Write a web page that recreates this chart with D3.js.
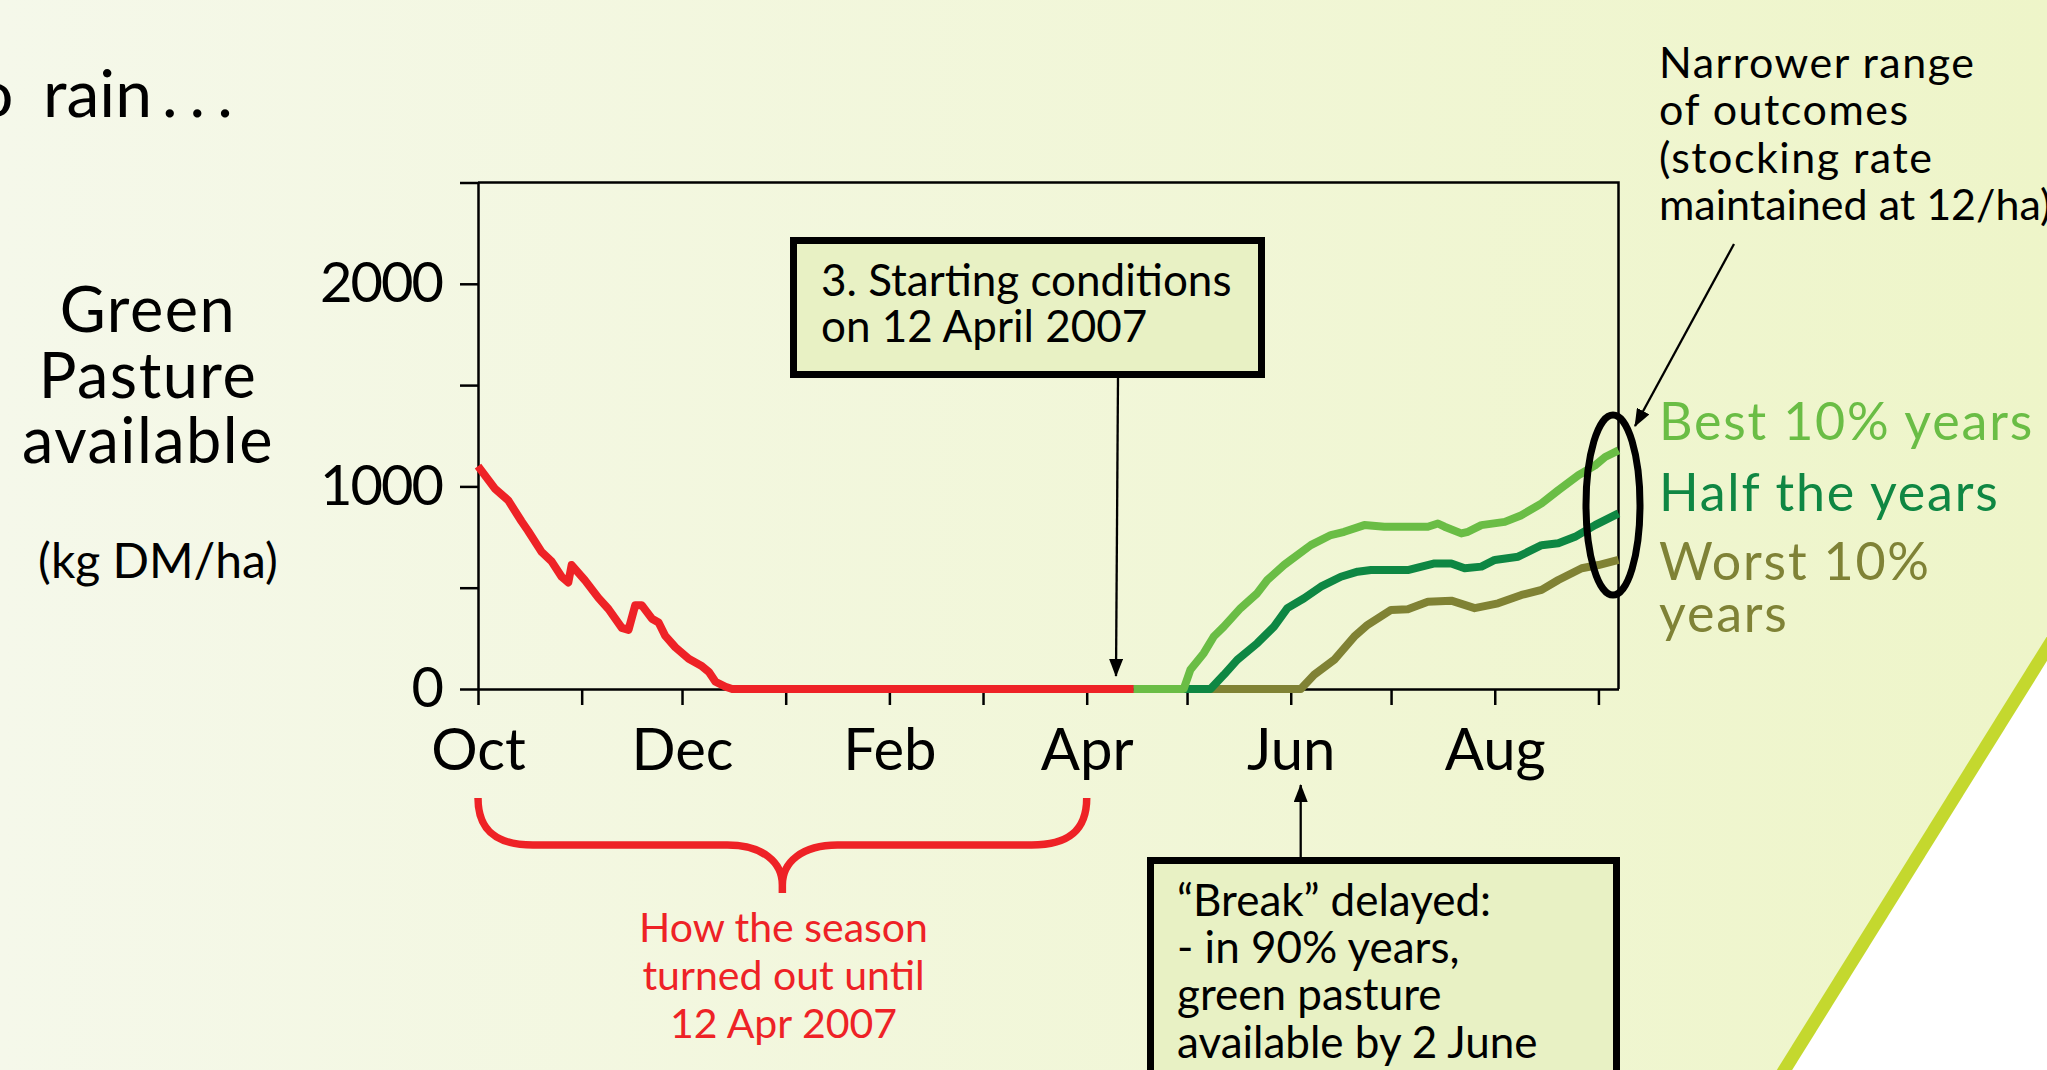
<!DOCTYPE html>
<html>
<head>
<meta charset="utf-8">
<script src="https://cdn.jsdelivr.net/npm/d3@7"></script>
<style>
  body { margin: 0; background: #fff; }
  svg { display: block; font-family: "Lato", sans-serif; }
</style>
</head>
<body>
<div id="chart"></div>
<script>
// days counted from 1 Oct 2006, values in kg DM/ha
const seasonSoFar = [[0,1100],[5,990],[9,932],[13,828],[15,780],[19,677],[22,630],[25,554],[27,526],[28,612],
  [32,536],[36,450],[39,395],[43,302],[45,292],[47,413],[49,413],[52,347],[54,328],[56,262],[59,206],
  [61,178],[63,149],[67,112],[69,85],[71,36],[74,11],[76,0],[196,0]];
const best10 = [[196,0],[211,0],[213,95],[217,177],[220,259],[223,308],[228,399],[233,473],[236,538],[241,612],
  [243,637],[249,710],[255,760],[259,776],[265,809],[271,801],[284,801],[287,817],[289,801],[294,768],
  [296,776],[300,809],[307,825],[312,858],[318,916],[323,981],[329,1055],[334,1104],[337,1145],[341,1178]];
const halfYears = [[196,0],[219,0],[223,70],[227,144],[233,226],[238,308],[242,399],[247,448],[252,505],[258,554],
  [263,579],[267,587],[278,587],[286,620],[291,620],[295,596],[300,604],[304,637],[311,653],[318,710],
  [323,719],[328,751],[334,809],[341,867]];
const worst10 = [[196,0],[246,0],[250,70],[256,144],[262,259],[266,317],[273,390],[278,394],[284,431],[291,436],
  [298,399],[305,423],[312,464],[318,489],[323,538],[330,596],[335,612],[341,637]];

const yTicks = [0, 500, 1000, 1500, 2000, 2500];
const yLabelled = [0, 1000, 2000];
const monthLabelled = ["Oct", "Dec", "Feb", "Apr", "Jun", "Aug"];

const yTitle = ["Green", "Pasture", "available"];
const yUnit = "(kg DM/ha)";
const startBox = ["3. Starting conditions", "on 12 April 2007"];
const breakBox = ["\u201cBreak\u201d delayed:", "- in 90% years,", "green pasture", "available by 2 June"];
const seasonNote = ["How the season", "turned out until", "12 Apr 2007"];
const rangeNote = ["Narrower range", "of outcomes", "(stocking rate", "maintained at 12/ha)"];
const legend = [
  {text: "Best 10% years", color: "#6abd45", y: 440},
  {text: "Half the years", color: "#0f8743", y: 511},
  {text: "Worst 10%", color: "#7f8236", y: 580},
  {text: "years", color: "#7f8236", y: 632}
];

const W = 2047, H = 1070;
const svg = d3.select("#chart").append("svg").attr("width", W).attr("height", H);

const defs = svg.append("defs");
const grad = defs.append("linearGradient").attr("id", "bg").attr("x1", 0).attr("x2", 1).attr("y1", 0).attr("y2", 0);
grad.append("stop").attr("offset", 0).attr("stop-color", "#f5f8ea");
grad.append("stop").attr("offset", 1).attr("stop-color", "#eef5c9");
defs.append("marker").attr("id", "head").attr("viewBox", "0 0 18 14")
  .attr("refX", 17).attr("refY", 7).attr("markerWidth", 18).attr("markerHeight", 14)
  .attr("markerUnits", "userSpaceOnUse").attr("orient", "auto")
  .append("path").attr("d", "M0,0 L18,7 L0,14 Z").attr("fill", "#000");

svg.append("rect").attr("width", W).attr("height", H).attr("fill", "url(#bg)");
// white corner + lime swoosh
svg.append("path").attr("d", "M2066,618 L2100,618 L2100,1090 L1772,1090 Z").attr("fill", "#fff");
svg.append("line").attr("x1", 2066).attr("y1", 618).attr("x2", 1772).attr("y2", 1090)
  .attr("stroke", "#c4d82e").attr("stroke-width", 13);

// page title fragment
svg.append("text").attr("y", 117).attr("font-size", 66).attr("fill", "#000")
  .call(t => {
    t.append("tspan").attr("x", -24).text("o");
    t.append("tspan").attr("x", 43).text("rain");
    t.append("tspan").attr("x", 162).attr("letter-spacing", 12).text("...");
  });

const origin = new Date(2006, 9, 1);
const day = n => d3.timeDay.offset(origin, n);

const x = d3.scaleTime().domain([day(0), day(341)]).range([478, 1618.5]);
const y = d3.scaleLinear().domain([0, 2500]).range([689, 182.5]);

// axes
const yAxis = d3.axisLeft(y).tickValues(yTicks).tickSize(18).tickSizeOuter(0)
  .tickFormat(d => yLabelled.includes(d) ? d : "");
const gy = svg.append("g").attr("transform", `translate(${x.range()[0]},0)`).call(yAxis);
gy.selectAll("text").attr("x", -36).attr("font-size", 56).attr("font-family", "Lato").attr("letter-spacing", -2).attr("fill", "#000");

const fmt = d3.timeFormat("%b");
const xAxis = d3.axisBottom(x).ticks(d3.timeMonth.every(1)).tickSize(16).tickSizeOuter(0)
  .tickFormat(d => monthLabelled.includes(fmt(d)) ? fmt(d) : "");
const gx = svg.append("g").attr("transform", `translate(0,${y(0)})`).call(xAxis);
gx.selectAll("text").attr("y", 81).attr("dy", 0).attr("font-size", 58).attr("font-family", "Lato").attr("fill", "#000");

[gx, gy].forEach(g => {
  g.selectAll("path, line").attr("stroke", "#000").attr("stroke-width", 2.5);
});
// frame top and right
svg.append("path")
  .attr("d", `M${x.range()[0]},${y(2500)} H${x.range()[1]} V${y(0)}`)
  .attr("fill", "none").attr("stroke", "#000").attr("stroke-width", 2.5);

// series
const line = d3.line().x(d => x(day(d[0]))).y(d => y(d[1]));
const series = [
  {data: worst10, color: "#808234", w: 8},
  {data: halfYears, color: "#0e8743", w: 8},
  {data: best10, color: "#6abd45", w: 8},
  {data: seasonSoFar, color: "#ee2226", w: 8}
];
svg.append("g").selectAll("path").data(series).join("path")
  .attr("d", d => line(d.data)).attr("fill", "none")
  .attr("stroke", d => d.color).attr("stroke-width", d => d.w)
  .attr("stroke-linejoin", "round");

// y title
svg.append("g").selectAll("text").data(yTitle).join("text")
  .attr("x", 148).attr("y", (d, i) => 332 + i * 65.5)
  .attr("text-anchor", "middle").attr("font-size", 63).attr("letter-spacing", 1.5).text(d => d);
svg.append("text").attr("x", 158).attr("y", 578).attr("text-anchor", "middle")
  .attr("font-size", 48).text(yUnit);

// box 1: starting conditions
svg.append("rect").attr("x", 793.5).attr("y", 240.5).attr("width", 468).attr("height", 134)
  .attr("fill", "#e8f1c4").attr("stroke", "#000").attr("stroke-width", 7);
svg.append("g").selectAll("text").data(startBox).join("text")
  .attr("x", 821).attr("y", (d, i) => 296 + i * 45.5).attr("font-size", 44).text(d => d);
svg.append("line").attr("x1", 1118).attr("y1", 378).attr("x2", 1116).attr("y2", y(0) - 13)
  .attr("stroke", "#000").attr("stroke-width", 2.3).attr("marker-end", "url(#head)");

// box 2: break delayed
svg.append("rect").attr("x", 1150.5).attr("y", 860.5).attr("width", 466).attr("height", 260)
  .attr("fill", "#e8f1c4").attr("stroke", "#000").attr("stroke-width", 7);
svg.append("g").selectAll("text").data(breakBox).join("text")
  .attr("x", 1177).attr("y", (d, i) => 915.5 + i * 47.4).attr("font-size", 44).text(d => d);
svg.append("line").attr("x1", 1300.7).attr("y1", 857).attr("x2", 1300.7).attr("y2", 785)
  .attr("stroke", "#000").attr("stroke-width", 2.3).attr("marker-end", "url(#head)");

// red brace under Oct..Apr
const bx0 = x(day(0)), bx1 = x(day(182)), bxm = (bx0 + bx1) / 2;
svg.append("path")
  .attr("d", `M${bx0},798 C${bx0},832 ${bx0 + 20},845 ${bx0 + 55},845 H${bxm - 55} C${bxm - 20},845 ${bxm},862 ${bxm},885 V893
              M${bxm},885 C${bxm},862 ${bxm + 20},845 ${bxm + 55},845 H${bx1 - 55} C${bx1 - 20},845 ${bx1},832 ${bx1},798`)
  .attr("fill", "none").attr("stroke", "#ee2226").attr("stroke-width", 7.5);
svg.append("g").selectAll("text").data(seasonNote).join("text")
  .attr("x", 783.5).attr("y", (d, i) => 942 + i * 47.8).attr("text-anchor", "middle")
  .attr("font-size", 41).attr("fill", "#ee2226").text(d => d);

// right annotation
svg.append("g").selectAll("text").data(rangeNote).join("text")
  .attr("x", 1659).attr("y", (d, i) => 78 + i * 47.3).attr("font-size", 43)
  .attr("letter-spacing", (d, i) => i === 3 ? 0 : 1.5).text(d => d);
svg.append("line").attr("x1", 1734).attr("y1", 244).attr("x2", 1635).attr("y2", 426)
  .attr("stroke", "#000").attr("stroke-width", 2.3).attr("marker-end", "url(#head)");
svg.append("ellipse").attr("cx", 1613).attr("cy", 505).attr("rx", 27).attr("ry", 90)
  .attr("fill", "none").attr("stroke", "#000").attr("stroke-width", 7);

svg.append("g").selectAll("text").data(legend).join("text")
  .attr("x", 1659).attr("y", d => d.y).attr("font-size", 52).attr("letter-spacing", 1.8)
  .attr("fill", d => d.color).text(d => d.text);
</script>
</body>
</html>
